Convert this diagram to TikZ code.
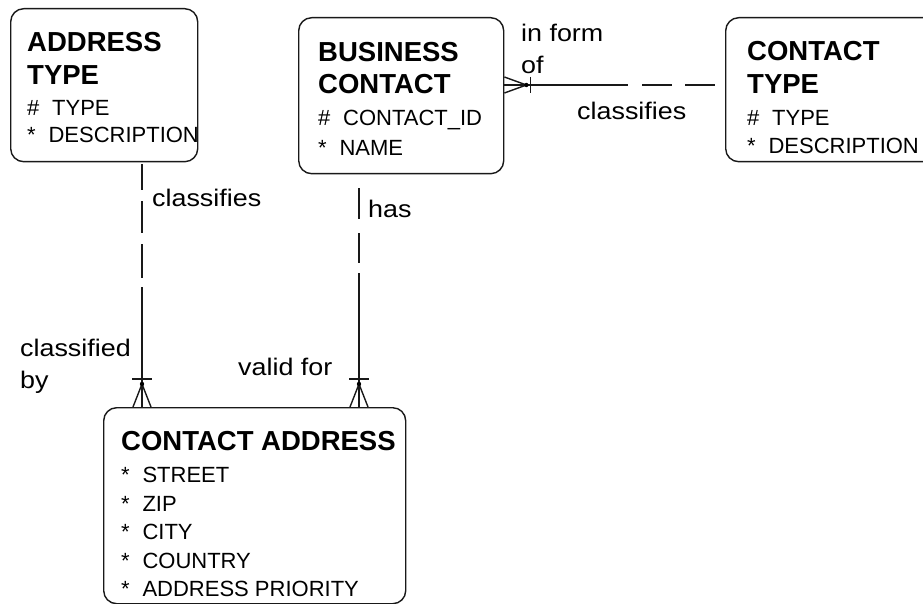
\documentclass[tikz,border=0pt]{standalone}
\usepackage{fontspec}
\setmainfont{Liberation Sans}
\newfontfamily\lblfamily[FakeStretch=1.12]{Liberation Sans}
\usetikzlibrary{calc}

% entity text fonts
\newcommand\titlefont{\bfseries\fontsize{27.5}{30}\selectfont}
\newcommand\attrfont{\fontsize{22}{26}\selectfont}
\newcommand\relfont{\lblfamily\fontsize{24}{28}\selectfont}
% attribute markers: unique identifier and mandatory
\newcommand\uidmark{\#\hspace{0.58em}}
\newcommand\mandmark{*\hspace{0.58em}}

\begin{document}
\begin{tikzpicture}[x=1pt, y=-1pt,
  ink/.style={draw=black!90, line width=1.4pt},
  entity/.style={ink, rectangle, rounded corners=13pt, inner sep=0pt, anchor=north west},
  txt/.style={anchor=base west, inner sep=0pt, text=black},
  ttl/.style={txt, font=\titlefont},
  attr/.style={txt, font=\attrfont},
  rel/.style={txt, font=\relfont},
  conn/.style={ink, line cap=butt},
]
\useasboundingbox (0,0) rectangle (923,604);
\clip (0,0) rectangle (923,604);

% ---------- entities ----------
\node[entity, minimum width=187pt, minimum height=153pt] (at) at (10,8) {};
\node[entity, minimum width=205pt, minimum height=156pt] (bc) at (298,17) {};
\node[entity, minimum width=215pt, minimum height=144pt] (ct) at (725,17) {};
\node[entity, minimum width=302pt, minimum height=196pt] (ca) at (103,407) {};

% ADDRESS TYPE
\begin{scope}
  \clip (at.north west) rectangle (at.south east);
  \node[ttl]  (at1) at (27,52)  {ADDRESS};
  \node[ttl]  (at2) at (27,85)  {TYPE};
  \node[attr] (at3) at (27,116) {\uidmark TYPE};
  \node[attr] (at4) at (27,143) {\mandmark DESCRIPTION};
\end{scope}

% BUSINESS CONTACT
\node[ttl]  (bc1) at (318,62)  {BUSINESS};
\node[ttl]  (bc2) at (318,94)  {CONTACT};
\node[attr] (bc3) at (318,126) {\uidmark CONTACT\_ID};
\node[attr] (bc4) at (318,156) {\mandmark NAME};

% CONTACT TYPE
\node[ttl]  (ct1) at (747,61)  {CONTACT};
\node[ttl]  (ct2) at (747,94)  {TYPE};
\node[attr] (ct3) at (747,126) {\uidmark TYPE};
\node[attr] (ct4) at (747,154) {\mandmark DESCRIPTION};

% CONTACT ADDRESS
\node[ttl]  (ca1) at (121,450) {CONTACT ADDRESS};
\node[attr] (ca2) at (121,482) {\mandmark STREET};
\node[attr] (ca3) at (121,511) {\mandmark ZIP};
\node[attr] (ca4) at (121,539) {\mandmark CITY};
\node[attr] (ca5) at (121,568) {\mandmark COUNTRY};
\node[attr] (ca6) at (121,596) {\mandmark ADDRESS PRIORITY};

% ---------- relationships ----------
% ADDRESS TYPE -- CONTACT ADDRESS
\coordinate (r1a) at ($(at.south west)+(132,0)$);
\coordinate (r1b) at ($(ca.north west)+(39,0)$);
\coordinate (r1m) at (r1a |- 0,287);
\draw[conn, dash pattern=on 26pt off 11pt on 32pt off 11pt on 34pt off 12pt, dash phase=124pt] (r1a) -- (r1m);
\draw[conn] (r1m) -- (r1b);
\draw[conn] ($(r1b)+(-9,0)$) -- ($(r1b)+(0,-23)$) -- ($(r1b)+(9,0)$);
\draw[conn] ($(r1b)+(-10,-28)$) -- ($(r1b)+(10,-28)$);
\fill[black] ($(r1b)+(0,-23)$) circle (2.2);

% BUSINESS CONTACT -- CONTACT ADDRESS
\coordinate (r2a) at ($(bc.south west)+(61,0)$);
\coordinate (r2b) at ($(ca.north west)+(256,0)$);
\coordinate (r2m) at (r2a |- 0,273);
\draw[conn, dash pattern=on 31pt off 14pt on 30pt off 25pt, dash phase=86pt] (r2a) -- (r2m);
\draw[conn] (r2m) -- (r2b);
\draw[conn] ($(r2b)+(-9,0)$) -- ($(r2b)+(0,-23)$) -- ($(r2b)+(9,0)$);
\draw[conn] ($(r2b)+(-10,-28)$) -- ($(r2b)+(10,-28)$);
\fill[black] ($(r2b)+(0,-23)$) circle (2.2);

% BUSINESS CONTACT -- CONTACT TYPE
\coordinate (r3a) at ($(bc.north east)+(0,68)$);
\coordinate (r3b) at ($(ct.north west)+(0,68)$);
\coordinate (r3m) at (628,0 |- r3a);
\draw[conn] (r3a) -- (r3m);
\draw[conn, dash pattern=on 30pt off 13pt on 30pt off 24pt, dash phase=83pt] (r3m) -- (r3b);
\draw[conn] ($(r3a)+(0,-8)$) -- ($(r3a)+(22,0)$) -- ($(r3a)+(0,8)$);
\draw[conn] ($(r3a)+(26,-8)$) -- ($(r3a)+(26,8)$);
\fill[black] ($(r3a)+(22,0)$) circle (2.2);

% ---------- relationship labels ----------
\node[rel] (l1) at (521,42)  {in form};
\node[rel] (l2) at (521,74)  {of};
\node[rel] (l3) at (577,120) {classifies};
\node[rel] (l4) at (152,207) {classifies};
\node[rel] (l5) at (368,218) {has};
\node[rel] (l6) at (20,356)  {classified};
\node[rel] (l7) at (20,388)  {by};
\node[rel] (l8) at (238,375) {valid for};
\end{tikzpicture}
\end{document}
